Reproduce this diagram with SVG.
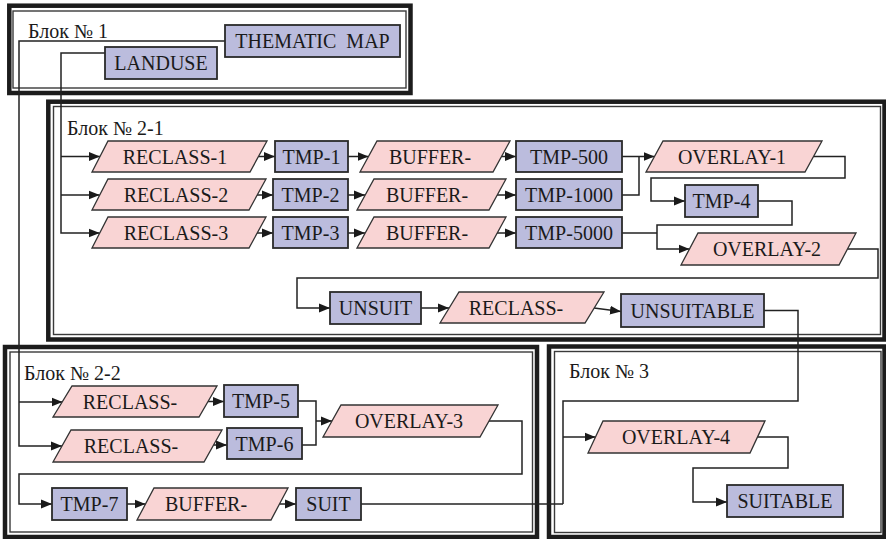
<svg xmlns="http://www.w3.org/2000/svg" width="886" height="539" viewBox="0 0 886 539">
<style>
.bg{fill:#ffffff}
.frame{fill:none;stroke:#1c1c1c;stroke-width:4.5}
.inner{fill:none;stroke:#3a3a3a;stroke-width:1.4}
.data{fill:#bbbcdd;stroke:#2a2a2a;stroke-width:1.8}
.op{fill:#f9d4d4;stroke:#333333;stroke-width:1.3}
.lbl{font-family:"Liberation Serif","Times New Roman",serif;font-size:20px;fill:#1a1a1a;text-anchor:middle}
.blk{font-family:"Liberation Serif","Times New Roman",serif;font-size:20px;fill:#1a1a1a}
.con{fill:none;stroke:#222222;stroke-width:1.5}
.arr{fill:none;stroke:#222222;stroke-width:1.5;marker-end:url(#ah)}
</style>
<defs>
<marker id="ah" markerUnits="userSpaceOnUse" markerWidth="12" markerHeight="10" refX="11" refY="5" orient="auto">
<path d="M0,0.6 L11,5 L0,9.4 z" fill="#1a1a1a"/>
</marker>
</defs>
<rect class="bg" x="0" y="0" width="886" height="539"/>
<g id="frames">
<g id="block1">
<rect class="frame" x="9.3" y="5.7" width="401.2" height="87.3"/>
<rect class="inner" x="13" y="11" width="393" height="77"/>
<text class="blk" x="28" y="38">Блок № 1</text>
</g>
<g id="block2-1">
<rect class="frame" x="48.3" y="101.7" width="836.2" height="237.8"/>
<rect class="inner" x="53.5" y="106.5" width="827" height="228"/>
<text class="blk" x="67" y="135">Блок № 2-1</text>
</g>
<g id="block2-2">
<rect class="frame" x="5" y="347" width="532" height="190"/>
<rect class="inner" x="10" y="352" width="522.5" height="180"/>
<text class="blk" x="24" y="380">Блок № 2-2</text>
</g>
<g id="block3">
<rect class="frame" x="549" y="346.5" width="335.5" height="190.5"/>
<rect class="inner" x="554.5" y="351.5" width="326.5" height="181"/>
<text class="blk" x="569" y="378">Блок № 3</text>
</g>
</g>
<g id="connectors">
<path class="arr" d="M225,41 H19 V446 H62"/>
<path class="arr" d="M19,402 H62.5"/>
<path class="arr" d="M105,53 H61 V233 H99.7"/>
<path class="arr" d="M61,156.5 H100"/>
<path class="arr" d="M61,195 H99.7"/>
<path class="arr" d="M258.5,156.5 H275"/>
<path class="arr" d="M257,195 H273"/>
<path class="arr" d="M257,233 H273"/>
<path class="arr" d="M348,156.5 H368.5"/>
<path class="arr" d="M348,195 H365"/>
<path class="arr" d="M348,233 H365"/>
<path class="arr" d="M501.5,156.5 H516"/>
<path class="arr" d="M497,195 H516"/>
<path class="arr" d="M497,233 H516"/>
<path class="arr" d="M622,156.5 H654.5"/>
<path class="con" d="M622,195 H639 V156.5"/>
<path class="arr" d="M813.5,156.5 H845 V178 H651 V201 H685"/>
<path class="arr" d="M758,201 H792 V225 H657 V249 H689.5"/>
<path class="con" d="M622,233 H657"/>
<path class="arr" d="M847.5,249 H878 V278 H297 V308 H330"/>
<path class="arr" d="M421,308 H449"/>
<path class="arr" d="M594,308 L621,311.5"/>
<path class="con" d="M764,310.5 H798 V401 H563 V504"/>
<path class="arr" d="M563,437 H595.5"/>
<path class="arr" d="M757.5,437 H788 V468 H693 V502 H727"/>
<path class="arr" d="M208,401.5 H224"/>
<path class="arr" d="M213.5,445 H227"/>
<path class="con" d="M298,401 H316 V445 H302"/>
<path class="arr" d="M316,421 H332"/>
<path class="arr" d="M489,421 H522 V474 H19 V504 H52"/>
<path class="arr" d="M127,504 H145.5"/>
<path class="arr" d="M279.5,504 H296"/>
<path class="con" d="M361,504 H563"/>
</g>
<g id="thematic-map"><rect class="data" x="225" y="25" width="175" height="32"/><text class="lbl" x="312.5" y="48" word-spacing="5">THEMATIC MAP</text></g>
<g id="landuse"><rect class="data" x="105" y="47" width="112" height="32"/><text class="lbl" x="161" y="70">LANDUSE</text></g>
<g id="reclass-1"><polygon class="op" points="108,141 267,141 250,172 92,172"/><text class="lbl" x="175" y="163.5">RECLASS-1</text></g>
<g id="tmp-1"><rect class="data" x="275" y="141" width="73" height="31"/><text class="lbl" x="311.5" y="163.5">TMP-1</text></g>
<g id="buffer-1"><polygon class="op" points="377,141 510,141 493,172 360,172"/><text class="lbl" x="430" y="163.5">BUFFER-</text></g>
<g id="tmp-500"><rect class="data" x="516" y="141" width="106" height="31"/><text class="lbl" x="569" y="163.5">TMP-500</text></g>
<g id="overlay-1"><polygon class="op" points="663,141 822,141 805,172 646,172"/><text class="lbl" x="732" y="163.5">OVERLAY-1</text></g>
<g id="reclass-2"><polygon class="op" points="108,179 266,179 249,210 92,210"/><text class="lbl" x="176" y="201.5">RECLASS-2</text></g>
<g id="tmp-2"><rect class="data" x="273" y="179" width="75" height="31"/><text class="lbl" x="310.5" y="201.5">TMP-2</text></g>
<g id="buffer-2"><polygon class="op" points="374,179 506,179 489,210 357,210"/><text class="lbl" x="427" y="201.5">BUFFER-</text></g>
<g id="tmp-1000"><rect class="data" x="516" y="179" width="106" height="31"/><text class="lbl" x="569" y="201.5">TMP-1000</text></g>
<g id="tmp-4"><rect class="data" x="685" y="185" width="73" height="32"/><text class="lbl" x="721.5" y="208">TMP-4</text></g>
<g id="reclass-3"><polygon class="op" points="108,217 266,217 249,248 92,248"/><text class="lbl" x="176" y="239.5">RECLASS-3</text></g>
<g id="tmp-3"><rect class="data" x="273" y="217" width="75" height="31"/><text class="lbl" x="310.5" y="239.5">TMP-3</text></g>
<g id="buffer-3"><polygon class="op" points="374,217 506,217 489,248 357,248"/><text class="lbl" x="427" y="239.5">BUFFER-</text></g>
<g id="tmp-5000"><rect class="data" x="516" y="217" width="106" height="31"/><text class="lbl" x="569" y="239.5">TMP-5000</text></g>
<g id="overlay-2"><polygon class="op" points="698,233 856,233 839,265 681,265"/><text class="lbl" x="767" y="256">OVERLAY-2</text></g>
<g id="unsuit"><rect class="data" x="330" y="292" width="91" height="32"/><text class="lbl" x="375.5" y="315">UNSUIT</text></g>
<g id="reclass-4"><polygon class="op" points="459,292 604,292 585,323 440,323"/><text class="lbl" x="516" y="314.5">RECLASS-</text></g>
<g id="unsuitable"><rect class="data" x="621" y="294" width="143" height="33"/><text class="lbl" x="692.5" y="317.5">UNSUITABLE</text></g>
<g id="reclass-5"><polygon class="op" points="72,386 217,386 199,417 53,417"/><text class="lbl" x="130" y="408.5">RECLASS-</text></g>
<g id="tmp-5"><rect class="data" x="224" y="385" width="74" height="32"/><text class="lbl" x="261" y="408">TMP-5</text></g>
<g id="reclass-6"><polygon class="op" points="71,430 222,430 204,462 53,462"/><text class="lbl" x="131" y="453">RECLASS-</text></g>
<g id="tmp-6"><rect class="data" x="227" y="428" width="75" height="31"/><text class="lbl" x="264.5" y="450.5">TMP-6</text></g>
<g id="overlay-3"><polygon class="op" points="341,405 498,405 480,437 323,437"/><text class="lbl" x="409" y="428">OVERLAY-3</text></g>
<g id="tmp-7"><rect class="data" x="52" y="488" width="75" height="32"/><text class="lbl" x="89.5" y="511">TMP-7</text></g>
<g id="buffer-4"><polygon class="op" points="154,488 288,488 271,520 137,520"/><text class="lbl" x="206" y="511">BUFFER-</text></g>
<g id="suit"><rect class="data" x="296" y="488" width="65" height="32"/><text class="lbl" x="328.5" y="511">SUIT</text></g>
<g id="overlay-4"><polygon class="op" points="603,421 765,421 750,453 588,453"/><text class="lbl" x="676" y="444">OVERLAY-4</text></g>
<g id="suitable"><rect class="data" x="727" y="485" width="116" height="32"/><text class="lbl" x="785" y="508">SUITABLE</text></g>
</svg>
